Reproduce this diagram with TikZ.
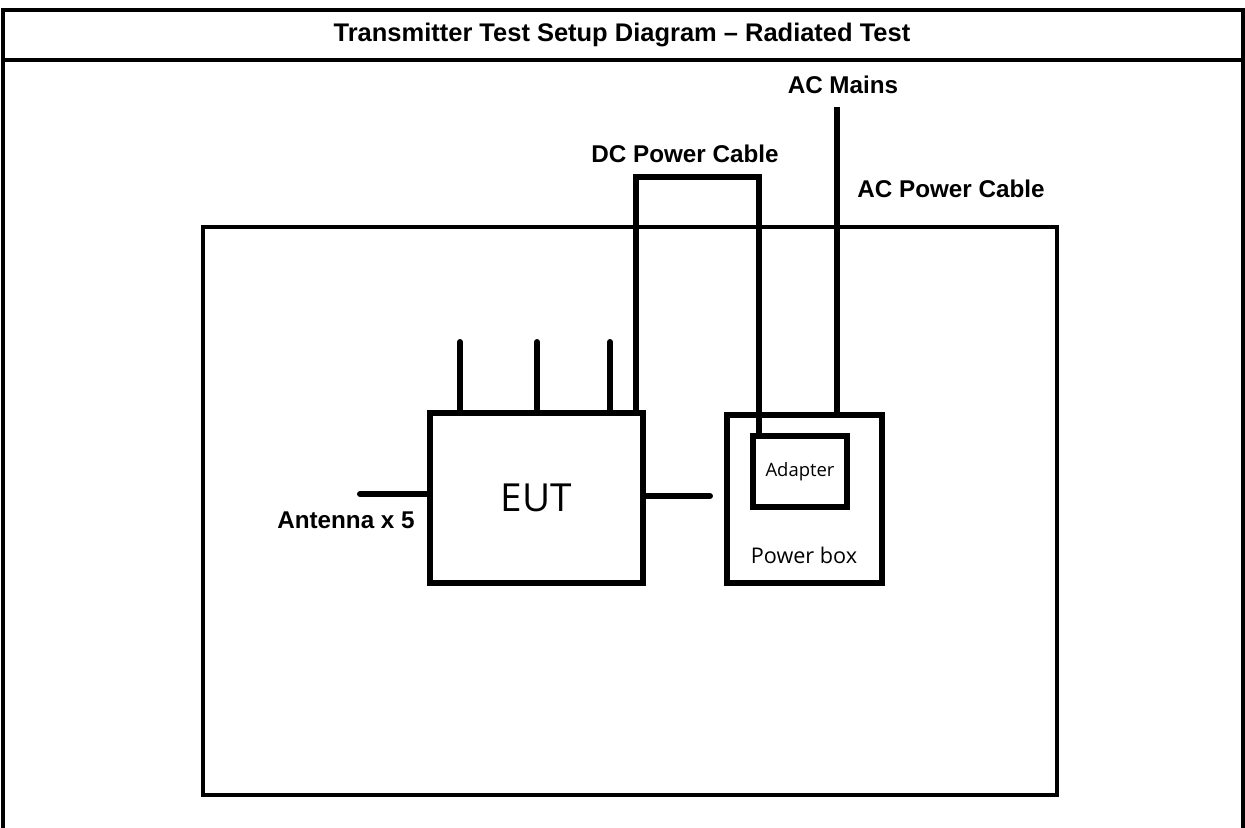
\documentclass[tikz,border=0pt]{standalone}
\usepackage{fontspec}
\setmainfont{Liberation Sans}
\newfontfamily\boxfont{Open Sans}
\usepackage{tikz}
\usetikzlibrary{calc}

\tikzset{
  cable/.style={line width=3.4pt, line cap=round},
  unit/.style={draw, line width=3.4pt, inner sep=0pt},
  lbl/.style={font=\fontsize{13.8}{16}\selectfont\bfseries, inner sep=0pt}
}

\begin{document}
\begin{tikzpicture}[x=0.02cm, y=-0.02cm]

% Page size
\useasboundingbox (0,0) rectangle (1245,828);

% Outer frame and header
\draw[line width=2pt] (3,828) -- (3,10) -- (1243,10) -- (1243,828);
\draw[line width=1.8pt] (3,60) -- (1243,60);
\node[font=\fontsize{14.5}{17}\selectfont\bfseries] (title) at (622,35)
  {Transmitter Test Setup Diagram -- Radiated Test};

% Test room
\draw[line width=1.8pt] (203,227) rectangle (1057,795);

% Equipment under test
\node[unit, minimum width=4.26cm, minimum height=3.4cm] (eut) at (536.5,498)
  {\boxfont\fontsize{22}{26}\selectfont EUT};

% Power box and adapter
\node[unit, minimum width=3.1cm, minimum height=3.36cm] (pbox) at (804.5,499) {};
\node[unit, minimum width=1.88cm, minimum height=1.42cm] (adapter) at (800,471.5)
  {\boxfont\fontsize{10.5}{12}\selectfont Adapter};
\node[inner sep=0pt] (pboxlbl) at (804,555) {\boxfont\fontsize{12.3}{14}\selectfont Power box};

% Antennas on top
\foreach \x [count=\i] in {460,537,610}{
  \coordinate (ant\i) at (\x,342);
  \draw[cable] (ant\i) -- (ant\i |- eut.north);
}

% Antenna on the left side
\coordinate (antL) at (360,494);
\draw[cable] (antL) -- (antL -| eut.west);
\node[lbl] (antlbl) at (346,520) {Antenna x 5};

% Stub on the right side
\coordinate (plug) at (710,496);
\draw[cable] (plug -| eut.east) -- (plug);

% DC power cable
\coordinate (dcL) at (636,177);
\coordinate (dcR) at (759,177);
\draw[line width=3.4pt, line join=miter] (dcL |- eut.north) -- (dcL) -- (dcR) -- (dcR |- adapter.north);
\node[lbl] (dclbl) at (685,154) {DC Power Cable};

% AC power cable
\coordinate (mains) at (837,107);
\draw[line width=3.4pt] (mains) -- (mains |- pbox.north);
\node[lbl] (mainslbl) at (843,85) {AC Mains};
\node[lbl] (aclbl) at (951,189) {AC Power Cable};

\end{tikzpicture}
\end{document}
